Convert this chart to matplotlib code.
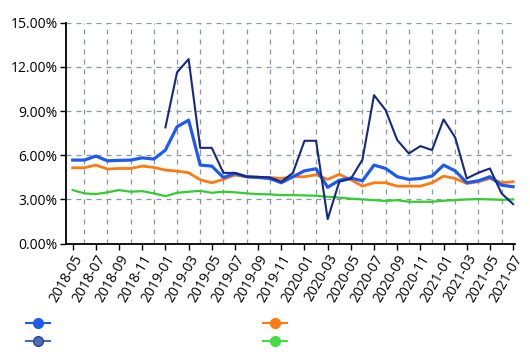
import numpy as np
import pandas as pd
import matplotlib
matplotlib.use("Agg")
import matplotlib.pyplot as plt
from matplotlib.ticker import PercentFormatter
from matplotlib.lines import Line2D

plt.rcParams['font.family'] = ['Open Sans', 'DejaVu Sans']

months = [str(p) for p in pd.period_range('2018-05', '2021-07', freq='M')]

blue = [5.67, 5.67, 5.94, 5.62, 5.65, 5.67, 5.82, 5.74, 6.35, 7.93, 8.38, 5.33, 5.26,
        4.49, 4.76, 4.54, 4.49, 4.42, 4.13, 4.54, 4.94, 5.08, 3.82, 4.30, 4.45, 4.26,
        5.33, 5.10, 4.54, 4.36, 4.42, 4.58, 5.33, 4.94, 4.13, 4.26, 4.54, 3.97, 3.86]
navy = [np.nan] * 8 + [7.89, 11.62, 12.53, 6.50, 6.50, 4.80, 4.80, 4.54, 4.53, 4.49,
        4.20, 4.80, 6.98, 6.98, 1.66, 4.20, 4.40, 5.70, 10.08, 9.06, 7.03, 6.12, 6.62,
        6.35, 8.43, 7.21, 4.42, 4.81, 5.10, 3.41, 2.68]
orange = [5.15, 5.15, 5.33, 5.06, 5.10, 5.10, 5.26, 5.17, 4.99, 4.92, 4.81, 4.33, 4.13,
          4.36, 4.65, 4.54, 4.49, 4.49, 4.42, 4.54, 4.54, 4.67, 4.36, 4.70, 4.33, 3.90,
          4.13, 4.13, 3.90, 3.90, 3.90, 4.13, 4.58, 4.42, 4.08, 4.20, 4.42, 4.13, 4.20]
green = [3.63, 3.41, 3.36, 3.48, 3.63, 3.52, 3.56, 3.41, 3.22, 3.45, 3.52, 3.58, 3.45,
         3.52, 3.48, 3.41, 3.36, 3.34, 3.29, 3.29, 3.27, 3.25, 3.18, 3.12, 3.05, 3.00,
         2.95, 2.89, 2.95, 2.84, 2.84, 2.84, 2.91, 2.95, 3.00, 3.02, 3.00, 2.97, 3.00]

x = np.arange(len(months))

fig = plt.figure(figsize=(5.3, 3.63), dpi=100)
ax = fig.add_axes([0.1245, 0.329, 0.848, 0.6085])

ax.plot(x, green, color='#33cc33', lw=1.6)
ax.plot(x, orange, color='#ff7a12', lw=2.0)
ax.plot(x, blue, color='#1f5af0', lw=2.3)
ax.plot(x, navy, color='#17297f', lw=1.5)

ax.set_xlim(-0.58, 38.2)
ax.set_ylim(0, 15)
ax.set_yticks([0, 3, 6, 9, 12, 15])
ax.yaxis.set_major_formatter(PercentFormatter(decimals=2))
ax.set_xticks(x[::2])
ax.set_xticklabels(months[::2], rotation=60, ha='right', rotation_mode='anchor')
ax.set_xticks(x[1::2], minor=True)
ax.tick_params(axis='x', which='minor', length=0)
ax.tick_params(axis='both', which='major', length=4, width=1, labelsize=10, pad=2)

ax.grid(True, which='minor', axis='x', color='#8a96a0', ls=(0, (4, 4)), lw=0.9)
ax.grid(True, which='major', axis='y', color='#8a96a0', ls=(0, (4, 4)), lw=0.9)
ax.set_axisbelow(True)
for s in ['top', 'right']:
    ax.spines[s].set_visible(False)
ax.spines['left'].set_linewidth(1.3)
ax.spines['bottom'].set_linewidth(1.3)

handles = [
    Line2D([], [], color='#1f5af0', marker='o', ms=7, lw=1.5),
    Line2D([], [], color='#4c6db4', marker='o', ms=7, lw=1.5, mec='#2a4590'),
    Line2D([], [], color='#ff7a12', marker='o', ms=7, lw=1.5),
    Line2D([], [], color='#44dd44', marker='o', ms=7, lw=1.5),
]
fig.legend(handles, ['', '', '', ''], ncol=2, loc='upper left',
           bbox_to_anchor=(0.026, 0.162), frameon=False, fontsize=10,
           handlelength=1.7, handletextpad=0.5, columnspacing=14.85, labelspacing=0.25)

fig.savefig('out.png', dpi=100)
